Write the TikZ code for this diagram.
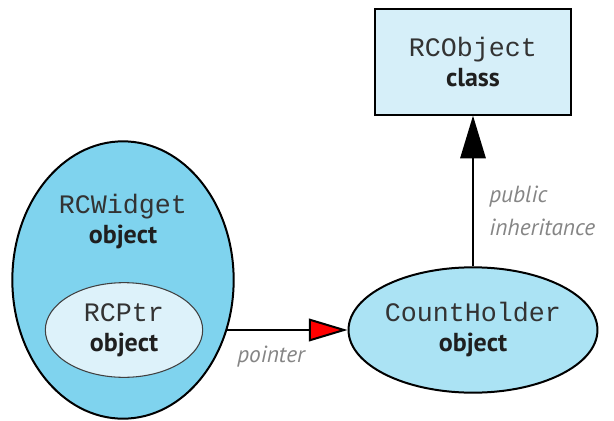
\documentclass[tikz,border=0pt]{standalone}
\usepackage{fontspec}
\setmainfont{PT Sans}
\setmonofont{Liberation Mono}
\usepackage{xcolor}
\usetikzlibrary{arrows.meta}
\usetikzlibrary{shapes.geometric}
\usetikzlibrary{backgrounds}
\definecolor{widgetblue}{HTML}{7FD3EE}
\definecolor{holderblue}{HTML}{ABE3F4}
\definecolor{ptrblue}{HTML}{DDF2FA}
\definecolor{classblue}{HTML}{D6EFF9}
\definecolor{codegray}{HTML}{333333}
\newcommand\code[1]{{\fontsize{20}{22.5}\selectfont\ttfamily\color{codegray}#1}}
\newcommand\kind[1]{{\bfseries #1}}
\tikzstyle{obj}=[ellipse,draw,line width=1.5pt,inner sep=0pt]
\tikzstyle{txt}=[align=center,font=\fontsize{19.5}{22.5}\selectfont,text=black!88]
\tikzstyle{lbl}=[font=\fontsize{17.5}{24.5}\selectfont\itshape,text=black!48,align=left,inner sep=0pt]
\tikzstyle{ptrhead}=[-{Triangle[length=29pt,width=17pt,fill=red]}]
\tikzstyle{inhhead}=[-{Triangle[length=32pt,width=19pt]}]

\begin{document}
\begin{tikzpicture}[x=0.75pt,y=-0.75pt]
	\useasboundingbox (0,0) rectangle (614,421);
	\node[obj,fill=widgetblue,minimum width=166pt,minimum height=208pt] (widget) at (123,280) {};
	\node[txt] (widgettxt) at (123,222) {\code{RCWidget}\\\kind{object}};
	\node[obj,txt,fill=ptrblue,draw=black!75,line width=0.8pt,minimum width=118pt,minimum height=71pt] (ptr) at (124,330) {\code{RCPtr}\\\kind{object}};
	\node[obj,txt,fill=holderblue,minimum width=169pt,minimum height=94pt] (holder) at (473,330) {\code{CountHolder}\\\kind{object}};
	\node[txt,draw,line width=1.5pt,fill=classblue,minimum width=147pt,minimum height=79pt] (base) at (473,62) {\code{RCObject}\\\kind{class}};
	\begin{scope}[on background layer]
		\draw[ptrhead,line width=1.5pt] (widget.center |- holder.west) -- (holder.west);
	\end{scope}
	\draw[inhhead,line width=1.5pt] (holder.north) -- (base.south);
	\node[lbl] (ptrlbl) at (271,357) {pointer};
	\node[lbl,anchor=west] (inhlbl) at (489,211) {public\\inheritance};
\end{tikzpicture}
\end{document}
